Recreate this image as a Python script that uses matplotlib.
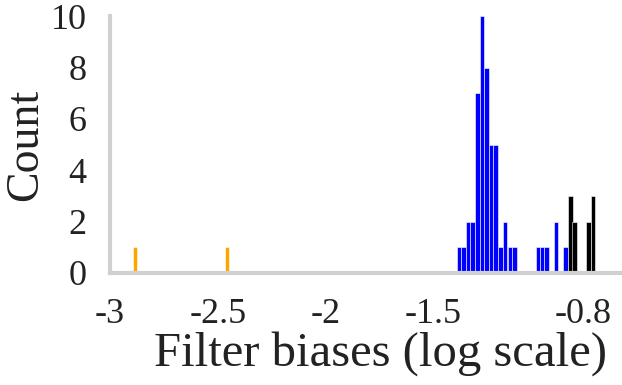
import matplotlib
matplotlib.use("Agg")
import matplotlib.pyplot as plt

# bin centres (log10 of bias) and counts
orange_x = [-2.884, -2.456]
orange_n = [1, 1]

blue_x = [-1.378, -1.358, -1.336, -1.316, -1.293, -1.272, -1.251, -1.229, -1.209,
          -1.186, -1.164, -1.142, -1.122, -1.012, -0.992, -0.972, -0.928, -0.885]
blue_n = [1, 1, 2, 2, 7, 10, 8, 5, 5, 1, 2, 1, 1, 1, 1, 1, 2, 1]

black_x = [-0.861, -0.841, -0.776, -0.756]
black_n = [3, 2, 2, 3]

xticks = [-3, -2.5, -2, -1.5, -0.8]
xtick_labels = ["-3", "-2.5", "-2", "-1.5", "-0.8"]
yticks = [0, 2, 4, 6, 8, 10]

plt.rcParams['font.family'] = ['Liberation Serif', 'DejaVu Serif']

fig = plt.figure(figsize=(6.22, 3.85), dpi=100)
ax = fig.add_axes([0.177, 0.291, 0.82, 0.667])

w = 0.021
ax.bar(orange_x, orange_n, width=w, color='#FFA500', edgecolor='white', linewidth=0.4)
ax.bar(blue_x, blue_n, width=w, color='#0000FF', edgecolor='white', linewidth=0.4)
ax.bar(black_x, black_n, width=w, color='black', edgecolor='white', linewidth=0.4)

ax.set_xlim(-3, -0.63)
ax.set_ylim(0, 10)
ax.set_xticks(xticks)
ax.set_xticklabels(xtick_labels)
ax.set_yticks(yticks)
ax.tick_params(length=0, labelsize=26, colors='#222222')
ax.tick_params(axis='x', pad=18)
ax.tick_params(axis='y', pad=17)

for s in ['top', 'right']:
    ax.spines[s].set_visible(False)
for s in ['left', 'bottom']:
    ax.spines[s].set_color('#d0d0d0')
    ax.spines[s].set_linewidth(3)

ax.set_xlabel("Filter biases (log scale)", fontsize=35, color='#222222')
ax.xaxis.set_label_coords(0.53, -0.225, transform=ax.transAxes)
ax.xaxis.label.set_verticalalignment('top')
ax.set_ylabel("Count", fontsize=33, color='#222222')
ax.yaxis.set_label_coords(-0.207, 0.5, transform=ax.transAxes)
ax.yaxis.label.set_verticalalignment('top')

fig.savefig("out.png", dpi=100)
